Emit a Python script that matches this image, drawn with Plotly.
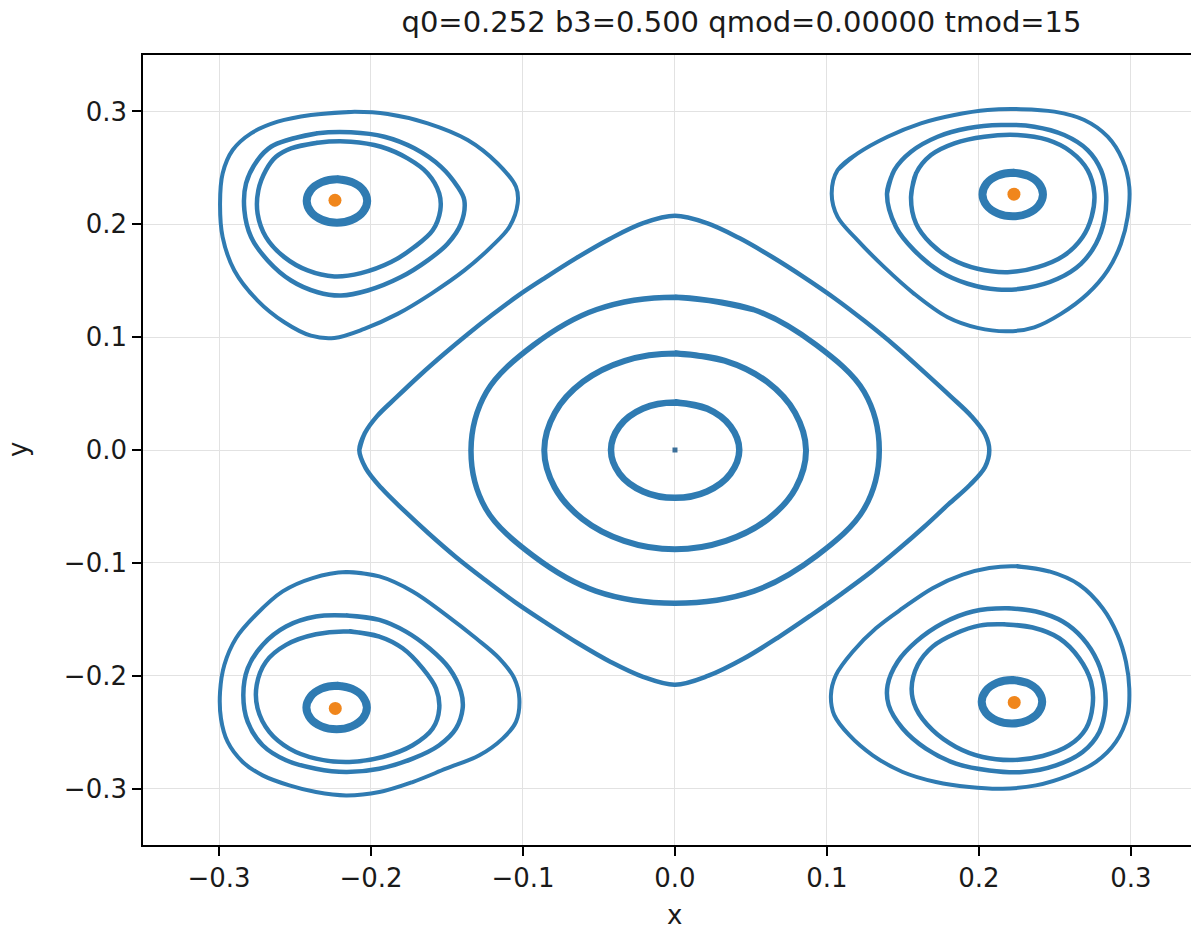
import plotly.graph_objects as go

# ---- Poincaré section: orbits around the origin ----
center_x = [0.0]
center_y = [0.0]

ring_a_x = [0.0, 0.021, 0.0365, 0.0423, 0.0365, 0.021, 0.0, -0.021, -0.0365, -0.0421, -0.0365, -0.021]
ring_a_y = [0.0420, 0.0367, 0.021, 0.0, -0.021, -0.0367, -0.0424, -0.0367, -0.021, 0.0, 0.021, 0.0367]

ring_b_x = [0.0, 0.0330, 0.0605, 0.0790, 0.0862, 0.0795, 0.0612, 0.0335,
            0.0, -0.0335, -0.0610, -0.0792, -0.0860, -0.0790, -0.0605, -0.0330]
ring_b_y = [0.0855, 0.0790, 0.0605, 0.0330, 0.0, -0.0335, -0.0612, -0.0805,
            -0.0880, -0.0805, -0.0610, -0.0330, 0.0, 0.0330, 0.0605, 0.0790]

ring_c_x = [0.0, 0.0515, 0.0930, 0.1245, 0.1344, 0.1245, 0.0935, 0.0520,
            0.0, -0.0520, -0.0935, -0.1245, -0.1342, -0.1240, -0.0930, -0.0515]
ring_c_y = [0.1354, 0.1245, 0.0930, 0.0515, 0.0, -0.0520, -0.0935, -0.1250,
            -0.1357, -0.1250, -0.0935, -0.0520, 0.0, 0.0515, 0.0930, 0.1245]

diamond_x = [-0.2077, -0.2040, -0.1960, -0.1830, -0.1680, -0.1520, -0.1360, -0.1200, -0.1030,
             -0.0850, -0.0650, -0.0430, -0.0210, 0.0, 0.0210, 0.0420, 0.0640, 0.0850, 0.1050,
             0.1250, 0.1450, 0.1640, 0.1810, 0.1950, 0.2040, 0.2068, 0.2040, 0.1940, 0.1800,
             0.1640, 0.1470, 0.1290, 0.1100, 0.0900, 0.0680, 0.0450, 0.0220, 0.0, -0.0210,
             -0.0420, -0.0640, -0.0850, -0.1050, -0.1250, -0.1440, -0.1620, -0.1780, -0.1930,
             -0.2035]
diamond_y = [0.0, 0.0150, 0.0300, 0.0470, 0.0660, 0.0850, 0.1030, 0.1200, 0.1370,
             0.1530, 0.1700, 0.1870, 0.2010, 0.2075, 0.2010, 0.1880, 0.1710, 0.1530, 0.1345,
             0.1140, 0.0920, 0.0690, 0.0480, 0.0300, 0.0140, 0.0, -0.0150, -0.0310, -0.0480,
             -0.0680, -0.0880, -0.1080, -0.1270, -0.1460, -0.1660, -0.1850, -0.2000, -0.2080,
             -0.2010, -0.1880, -0.1710, -0.1530, -0.1350, -0.1150, -0.0950, -0.0740, -0.0540,
             -0.0340, -0.0160]

# ---- island chain, top-left ----
tl_small_x = [-0.2224, -0.2125, -0.2052, -0.2025, -0.2052, -0.2125, -0.2224, -0.2323, -0.2396,
              -0.2423, -0.2396, -0.2323]
tl_small_y = [0.2400, 0.2374, 0.2304, 0.2207, 0.2111, 0.2040, 0.2014, 0.2040, 0.2111,
              0.2207, 0.2304, 0.2374]
tl_inner_x = [-0.2526, -0.2351, -0.2132, -0.1934, -0.1759, -0.1627, -0.1551, -0.1544, -0.1594,
              -0.1715, -0.1868, -0.2066, -0.2241, -0.2417, -0.2570, -0.2691, -0.2746, -0.2741,
              -0.2691, -0.2625]
tl_inner_y = [0.2673, 0.2723, 0.2732, 0.2687, 0.2584, 0.2451, 0.2273, 0.2124, 0.1947,
              0.1798, 0.1665, 0.1567, 0.1538, 0.1591, 0.1709, 0.1887, 0.2095, 0.2302,
              0.2480, 0.2598]
tl_mid_x = [-0.2548, -0.2351, -0.2132, -0.1912, -0.1715, -0.1539, -0.1430, -0.1386, -0.1408,
            -0.1496, -0.1627, -0.1803, -0.2022, -0.2197, -0.2351, -0.2526, -0.2680, -0.2789,
            -0.2833, -0.2822, -0.2746, -0.2658]
tl_mid_y = [0.2747, 0.2806, 0.2815, 0.2776, 0.2673, 0.2509, 0.2332, 0.2213, 0.2006,
            0.1828, 0.1680, 0.1532, 0.1413, 0.1369, 0.1398, 0.1502, 0.1680, 0.1887,
            0.2124, 0.2362, 0.2569, 0.2687]
tl_outer_x = [-0.2395, -0.2132, -0.1890, -0.1627, -0.1364, -0.1167, -0.1046, -0.1035, -0.1090,
              -0.1211, -0.1386, -0.1605, -0.1825, -0.2044, -0.2241, -0.2395, -0.2570, -0.2746,
              -0.2899, -0.2976, -0.2993, -0.2976, -0.2910, -0.2789, -0.2614]
tl_outer_y = [0.2969, 0.2996, 0.2978, 0.2895, 0.2747, 0.2539, 0.2332, 0.2184, 0.1976,
              0.1798, 0.1591, 0.1384, 0.1206, 0.1073, 0.0993, 0.1013, 0.1132, 0.1324,
              0.1591, 0.1887, 0.2184, 0.2451, 0.2658, 0.2806, 0.2909]

# ---- island chain, top-right ----
tr_small_x = [0.2222, 0.2322, 0.2394, 0.2421, 0.2394, 0.2322, 0.2222, 0.2123, 0.2050, 0.2023,
              0.2050, 0.2123]
tr_small_y = [0.2457, 0.2431, 0.2361, 0.2264, 0.2168, 0.2097, 0.2071, 0.2097, 0.2168, 0.2264,
              0.2361, 0.2431]
tr_inner_x = [0.1553, 0.1586, 0.1684, 0.1838, 0.2035, 0.2254, 0.2452, 0.2605, 0.2715, 0.2759,
              0.2741, 0.2682, 0.2561, 0.2386, 0.2189, 0.1991, 0.1816, 0.1684, 0.1586]
tr_inner_y = [0.2243, 0.2451, 0.2613, 0.2717, 0.2776, 0.2791, 0.2747, 0.2643, 0.2480, 0.2273,
              0.2065, 0.1887, 0.1724, 0.1620, 0.1576, 0.1606, 0.1695, 0.1828, 0.2006]
tr_mid_x = [0.1395, 0.1443, 0.1553, 0.1728, 0.1926, 0.2145, 0.2364, 0.2561, 0.2715, 0.2803,
            0.2836, 0.2824, 0.2770, 0.2671, 0.2518, 0.2320, 0.2123, 0.1926, 0.1750, 0.1574,
            0.1454]
tr_mid_y = [0.2273, 0.2480, 0.2643, 0.2776, 0.2851, 0.2880, 0.2865, 0.2791, 0.2658, 0.2480,
            0.2273, 0.2036, 0.1828, 0.1650, 0.1517, 0.1437, 0.1422, 0.1473, 0.1576, 0.1769,
            0.1976]
tr_outer_x = [0.1070, 0.1202, 0.1399, 0.1618, 0.1838, 0.2057, 0.2276, 0.2496, 0.2693, 0.2847,
              0.2945, 0.2989, 0.2978, 0.2934, 0.2847, 0.2715, 0.2539, 0.2364, 0.2189, 0.1991,
              0.1794, 0.1574, 0.1377, 0.1202, 0.1070, 0.1031]
tr_outer_y = [0.2480, 0.2628, 0.2776, 0.2895, 0.2969, 0.3013, 0.3020, 0.2998, 0.2924, 0.2776,
              0.2569, 0.2332, 0.2065, 0.1828, 0.1591, 0.1384, 0.1206, 0.1087, 0.1052, 0.1082,
              0.1176, 0.1384, 0.1620, 0.1858, 0.2065, 0.2273]

# ---- island chain, bottom-left ----
bl_small_x = [-0.2226, -0.2127, -0.2054, -0.2027, -0.2054, -0.2127, -0.2226, -0.2326, -0.2398,
              -0.2425, -0.2398, -0.2326]
bl_small_y = [-0.2089, -0.2115, -0.2186, -0.2282, -0.2379, -0.2449, -0.2475, -0.2449, -0.2379,
              -0.2282, -0.2186, -0.2115]
bl_inner_x = [-0.2143, -0.1945, -0.1792, -0.1660, -0.1572, -0.1551, -0.1594, -0.1726, -0.1923,
              -0.2143, -0.2362, -0.2537, -0.2669, -0.2746, -0.2752, -0.2691, -0.2559, -0.2362]
bl_inner_y = [-0.1609, -0.1653, -0.1757, -0.1935, -0.2113, -0.2291, -0.2468, -0.2616, -0.2720,
              -0.2764, -0.2735, -0.2646, -0.2498, -0.2291, -0.2083, -0.1876, -0.1727, -0.1633]
bl_mid_x = [-0.2164, -0.1945, -0.1770, -0.1616, -0.1485, -0.1408, -0.1397, -0.1441, -0.1551,
            -0.1726, -0.1945, -0.2164, -0.2362, -0.2559, -0.2713, -0.2811, -0.2840, -0.2811,
            -0.2713, -0.2559, -0.2362]
bl_mid_y = [-0.1467, -0.1505, -0.1609, -0.1757, -0.1935, -0.2142, -0.2291, -0.2468, -0.2616,
            -0.2735, -0.2824, -0.2853, -0.2824, -0.2749, -0.2616, -0.2409, -0.2172, -0.1935,
            -0.1727, -0.1564, -0.1476]
bl_outer_x = [-0.2164, -0.1945, -0.1726, -0.1507, -0.1309, -0.1156, -0.1057, -0.1024, -0.1046,
              -0.1134, -0.1287, -0.1507, -0.1726, -0.1945, -0.2164, -0.2362, -0.2537, -0.2713,
              -0.2844, -0.2943, -0.2987, -0.2993, -0.2965, -0.2888, -0.2757, -0.2581, -0.2384]
bl_outer_y = [-0.1082, -0.1120, -0.1253, -0.1460, -0.1668, -0.1846, -0.2024, -0.2202, -0.2409,
              -0.2557, -0.2705, -0.2824, -0.2942, -0.3031, -0.3061, -0.3031, -0.2972, -0.2883,
              -0.2764, -0.2587, -0.2380, -0.2142, -0.1905, -0.1668, -0.1460, -0.1253, -0.1135]

# ---- island chain, bottom-right ----
br_small_x = [0.2217, 0.2317, 0.2389, 0.2416, 0.2389, 0.2317, 0.2217, 0.2118, 0.2045, 0.2018,
              0.2045, 0.2118]
br_small_y = [-0.2038, -0.2064, -0.2135, -0.2231, -0.2328, -0.2398, -0.2424, -0.2398, -0.2328,
              -0.2231, -0.2135, -0.2064]
br_inner_x = [0.2156, 0.2353, 0.2528, 0.2660, 0.2737, 0.2748, 0.2704, 0.2594, 0.2419, 0.2222,
              0.2024, 0.1849, 0.1695, 0.1586, 0.1557, 0.1597, 0.1695, 0.1849, 0.2002]
br_inner_y = [-0.1544, -0.1573, -0.1668, -0.1846, -0.2053, -0.2261, -0.2468, -0.2616, -0.2711,
              -0.2747, -0.2720, -0.2631, -0.2483, -0.2291, -0.2113, -0.1905, -0.1742, -0.1624,
              -0.1556]
br_mid_x = [0.2178, 0.2375, 0.2551, 0.2682, 0.2781, 0.2825, 0.2831, 0.2792, 0.2682, 0.2507,
            0.2287, 0.2068, 0.1849, 0.1651, 0.1498, 0.1406, 0.1399, 0.1465, 0.1586, 0.1761,
            0.1959]
br_mid_y = [-0.1402, -0.1431, -0.1520, -0.1668, -0.1876, -0.2083, -0.2291, -0.2498, -0.2676,
            -0.2794, -0.2853, -0.2839, -0.2779, -0.2646, -0.2468, -0.2261, -0.2083, -0.1876,
            -0.1698, -0.1535, -0.1431]
br_outer_x = [0.2243, 0.2463, 0.2660, 0.2814, 0.2912, 0.2967, 0.2989, 0.2978, 0.2901, 0.2770,
              0.2594, 0.2375, 0.2156, 0.1936, 0.1717, 0.1498, 0.1301, 0.1147, 0.1048, 0.1026,
              0.1059, 0.1169, 0.1322, 0.1498, 0.1695, 0.1893, 0.2068]
br_outer_y = [-0.1031, -0.1076, -0.1194, -0.1402, -0.1638, -0.1876, -0.2113, -0.2349, -0.2587,
              -0.2764, -0.2883, -0.2972, -0.3002, -0.2987, -0.2942, -0.2853, -0.2705, -0.2527,
              -0.2349, -0.2172, -0.1994, -0.1787, -0.1580, -0.1402, -0.1224, -0.1105, -0.1046]

# ---- period-4 fixed points (island centres) ----
fixed_x = [-0.2237, 0.2230, -0.2235, 0.2232]
fixed_y = [0.2213, 0.2267, -0.2290, -0.2237]

tick_vals = [-0.3, -0.2, -0.1, 0.0, 0.1, 0.2, 0.3]
tick_text = ["\u22120.3", "\u22120.2", "\u22120.1", "0.0", "0.1", "0.2", "0.3"]

BLUE = "#2f7bb2"
ORANGE = "#f0861c"

# (x, y, stroke width) for each closed orbit
orbits = [
    (diamond_x, diamond_y, 4.5),
    (ring_c_x, ring_c_y, 5.5),
    (ring_b_x, ring_b_y, 6.0),
    (ring_a_x, ring_a_y, 6.5),
    (tl_outer_x, tl_outer_y, 4.0), (tl_mid_x, tl_mid_y, 4.5),
    (tl_inner_x, tl_inner_y, 4.5), (tl_small_x, tl_small_y, 8.0),
    (tr_outer_x, tr_outer_y, 4.0), (tr_mid_x, tr_mid_y, 4.5),
    (tr_inner_x, tr_inner_y, 4.5), (tr_small_x, tr_small_y, 8.0),
    (bl_outer_x, bl_outer_y, 4.0), (bl_mid_x, bl_mid_y, 4.5),
    (bl_inner_x, bl_inner_y, 4.5), (bl_small_x, bl_small_y, 8.0),
    (br_outer_x, br_outer_y, 4.0), (br_mid_x, br_mid_y, 4.5),
    (br_inner_x, br_inner_y, 4.5), (br_small_x, br_small_y, 8.0),
]

fig = go.Figure()
for xs, ys, w in orbits:
    # wrap around so the smoothed curve closes on itself
    fig.add_trace(go.Scatter(
        x=list(xs) + list(xs[:2]), y=list(ys) + list(ys[:2]),
        mode="lines", line=dict(color=BLUE, width=w, shape="spline", smoothing=1.0),
        hoverinfo="skip"))

fig.add_trace(go.Scatter(x=center_x, y=center_y, mode="markers",
                         marker=dict(symbol="square", size=5, color="#3b6f99")))
fig.add_trace(go.Scatter(x=fixed_x, y=fixed_y, mode="markers",
                         marker=dict(size=13, color=ORANGE)))

axis_common = dict(
    tickvals=tick_vals, ticktext=tick_text, ticks="outside", ticklen=9, tickwidth=1.6,
    tickcolor="#000000", showline=True, linecolor="#000000", linewidth=1.6,
    showgrid=True, gridcolor="#e2e2e2", gridwidth=1, zeroline=False,
    tickfont=dict(family="DejaVu Sans", size=26, color="#1a1a1a"),
)

fig.update_layout(
    width=1191, height=935,
    margin=dict(l=143, r=0, t=55, b=90),
    plot_bgcolor="white", paper_bgcolor="white",
    showlegend=False,
    font=dict(family="DejaVu Sans", size=26, color="#1a1a1a"),
    title=dict(text="q0=0.252 b3=0.500 qmod=0.00000 tmod=15",
               font=dict(family="DejaVu Sans", size=29, color="#1a1a1a"),
               x=741.5 / 1191, xanchor="center", xref="container",
               y=1 - 22 / 935, yanchor="middle", yref="container"),
    xaxis=dict(range=[-0.35, 0.3395], mirror=True, **axis_common),
    yaxis=dict(range=[-0.35, 0.35], mirror=False, **axis_common),
    annotations=[
        dict(text="x", xref="paper", yref="paper", x=(674 - 143) / 1048, y=-70 / 790,
             xanchor="center", yanchor="middle", showarrow=False,
             font=dict(family="DejaVu Sans", size=26, color="#1a1a1a")),
        dict(text="y", xref="paper", yref="paper", x=-125 / 1048, y=0.5,
             xanchor="center", yanchor="middle", showarrow=False, textangle=-90,
             font=dict(family="DejaVu Sans", size=26, color="#1a1a1a")),
    ],
)

fig.write_html("out.html")
